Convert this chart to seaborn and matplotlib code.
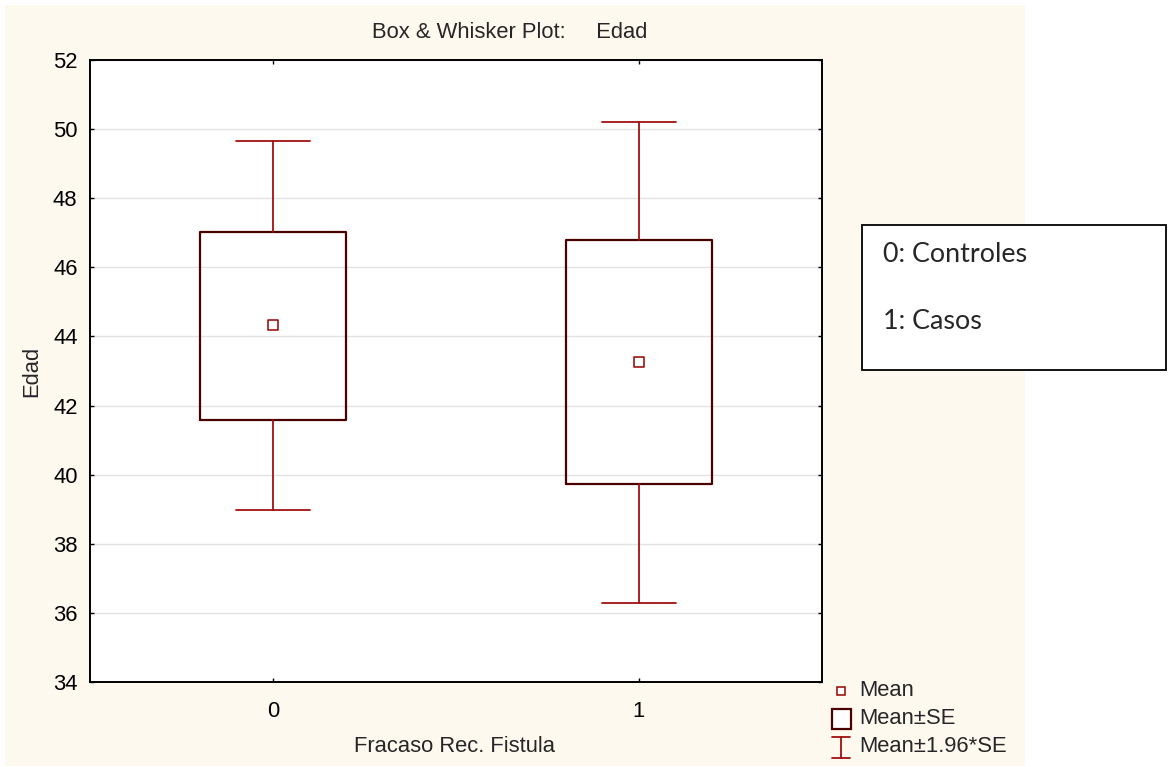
import matplotlib
matplotlib.use("Agg")
import matplotlib.pyplot as plt
from matplotlib.patches import Rectangle
from matplotlib.lines import Line2D
import seaborn as sns
import pandas as pd

# Edad by group: mean, mean±SE and mean±1.96*SE
groups = ["0", "1"]
means = [44.32, 43.26]
se_low = [41.58, 39.73]
se_high = [47.02, 46.78]
ci_low = [38.97, 36.29]
ci_high = [49.67, 50.20]
yticks = [34, 36, 38, 40, 42, 44, 46, 48, 50, 52]

title = "Box & Whisker Plot:     Edad"
xlabel = "Fracaso Rec. Fistula"
ylabel = "Edad"
legend_labels = ["Mean", "Mean±SE", "Mean±1.96*SE"]
group_notes = ["0: Controles", "1: Casos"]

sns.set_style("ticks")
plt.rcParams["font.family"] = ["Liberation Sans", "DejaVu Sans"]

FS = 15.8
BEIGE = "#FEF9EE"
BOX_EDGE = "#4A0000"
WHISK = "#A01010"

W, H = 1168, 767
fig = plt.figure(figsize=(W / 100, H / 100), dpi=100)
fig.patch.set_facecolor("white")

# beige panel behind the chart
fig.add_artist(Rectangle((5 / W, 1 - 766 / H), 1020 / W, 761 / H,
                         transform=fig.transFigure, facecolor=BEIGE,
                         edgecolor="none", zorder=0))

ax = fig.add_axes([90 / W, 1 - 682 / H, 732 / W, 622 / H])
ax.set_facecolor("white")

df = pd.DataFrame({"group": groups, "pos": range(len(groups)), "mean": means,
                   "q1": se_low, "q3": se_high, "lo": ci_low, "hi": ci_high})

stats = [dict(med=r["mean"], q1=r["q1"], q3=r["q3"], whislo=r["lo"],
              whishi=r["hi"], fliers=[]) for _, r in df.iterrows()]
ax.bxp(stats, positions=df["pos"], widths=0.40, showfliers=False,
       boxprops=dict(color=BOX_EDGE, linewidth=1.6),
       whiskerprops=dict(color=WHISK, linewidth=1.3),
       capprops=dict(color=WHISK, linewidth=1.3),
       medianprops=dict(linewidth=0), capwidths=0.20,
       manage_ticks=False, zorder=3)

sns.scatterplot(data=df, x="pos", y="mean", marker="s", s=45,
                facecolor="white", edgecolor="#990000", linewidth=1.1,
                ax=ax, zorder=4, legend=False)

ax.set_xlim(-0.5, 1.5)
ax.set_ylim(34, 52)
ax.set_yticks(yticks)
ax.set_xticks(df["pos"])
ax.set_xticklabels(groups)
ax.yaxis.grid(True, color="#E2E2E2", linewidth=1.0, zorder=0)
ax.set_axisbelow(True)
for s in ax.spines.values():
    s.set_visible(True)
    s.set_linewidth(1.4)
    s.set_color("black")
ax.tick_params(direction="in", length=3, width=1, top=True, right=True,
               labelsize=FS, colors="black", pad=9)
ax.tick_params(axis="x", pad=14)
ax.set_xlabel("")
ax.set_ylabel("")

fig.text(510 / W, 1 - 33 / H, title, ha="center", va="center", fontsize=FS)
fig.text(455 / W, 1 - 747 / H, xlabel, ha="center", va="center", fontsize=FS)
fig.text(32 / W, 1 - 371 / H, ylabel, ha="center", va="center",
         rotation=90, fontsize=FS)

# legend at the lower right
lx = 841 / W
fig.add_artist(Line2D([lx], [1 - 691 / H], marker="s", markersize=6,
                      markerfacecolor="white", markeredgecolor="#990000",
                      markeredgewidth=1.1, transform=fig.transFigure))
fig.add_artist(Rectangle((832 / W, 1 - 729 / H), 19 / W, 20 / H,
                         transform=fig.transFigure, facecolor="white",
                         edgecolor=BOX_EDGE, linewidth=1.6))
fig.add_artist(Line2D([lx, lx], [1 - 737 / H, 1 - 758 / H], color=WHISK,
                      linewidth=1.3, transform=fig.transFigure))
for yy in (737, 758):
    fig.add_artist(Line2D([832 / W, 850 / W], [1 - yy / H, 1 - yy / H],
                          color=WHISK, linewidth=1.3,
                          transform=fig.transFigure))
for lab, yy in zip(legend_labels, (691, 719, 747)):
    fig.text(859 / W, 1 - yy / H, lab, ha="left", va="center", fontsize=FS)

# group code box
fig.add_artist(Rectangle((862 / W, 1 - 370 / H), 304 / W, 145 / H,
                         transform=fig.transFigure, facecolor="white",
                         edgecolor="black", linewidth=1.3))
for lab, yy in zip(group_notes, (255, 322)):
    fig.text(883 / W, 1 - yy / H, lab, ha="left", va="center",
             fontsize=19.4, family=["Lato", "DejaVu Sans"])

fig.savefig("out.png", dpi=100, facecolor="white")
